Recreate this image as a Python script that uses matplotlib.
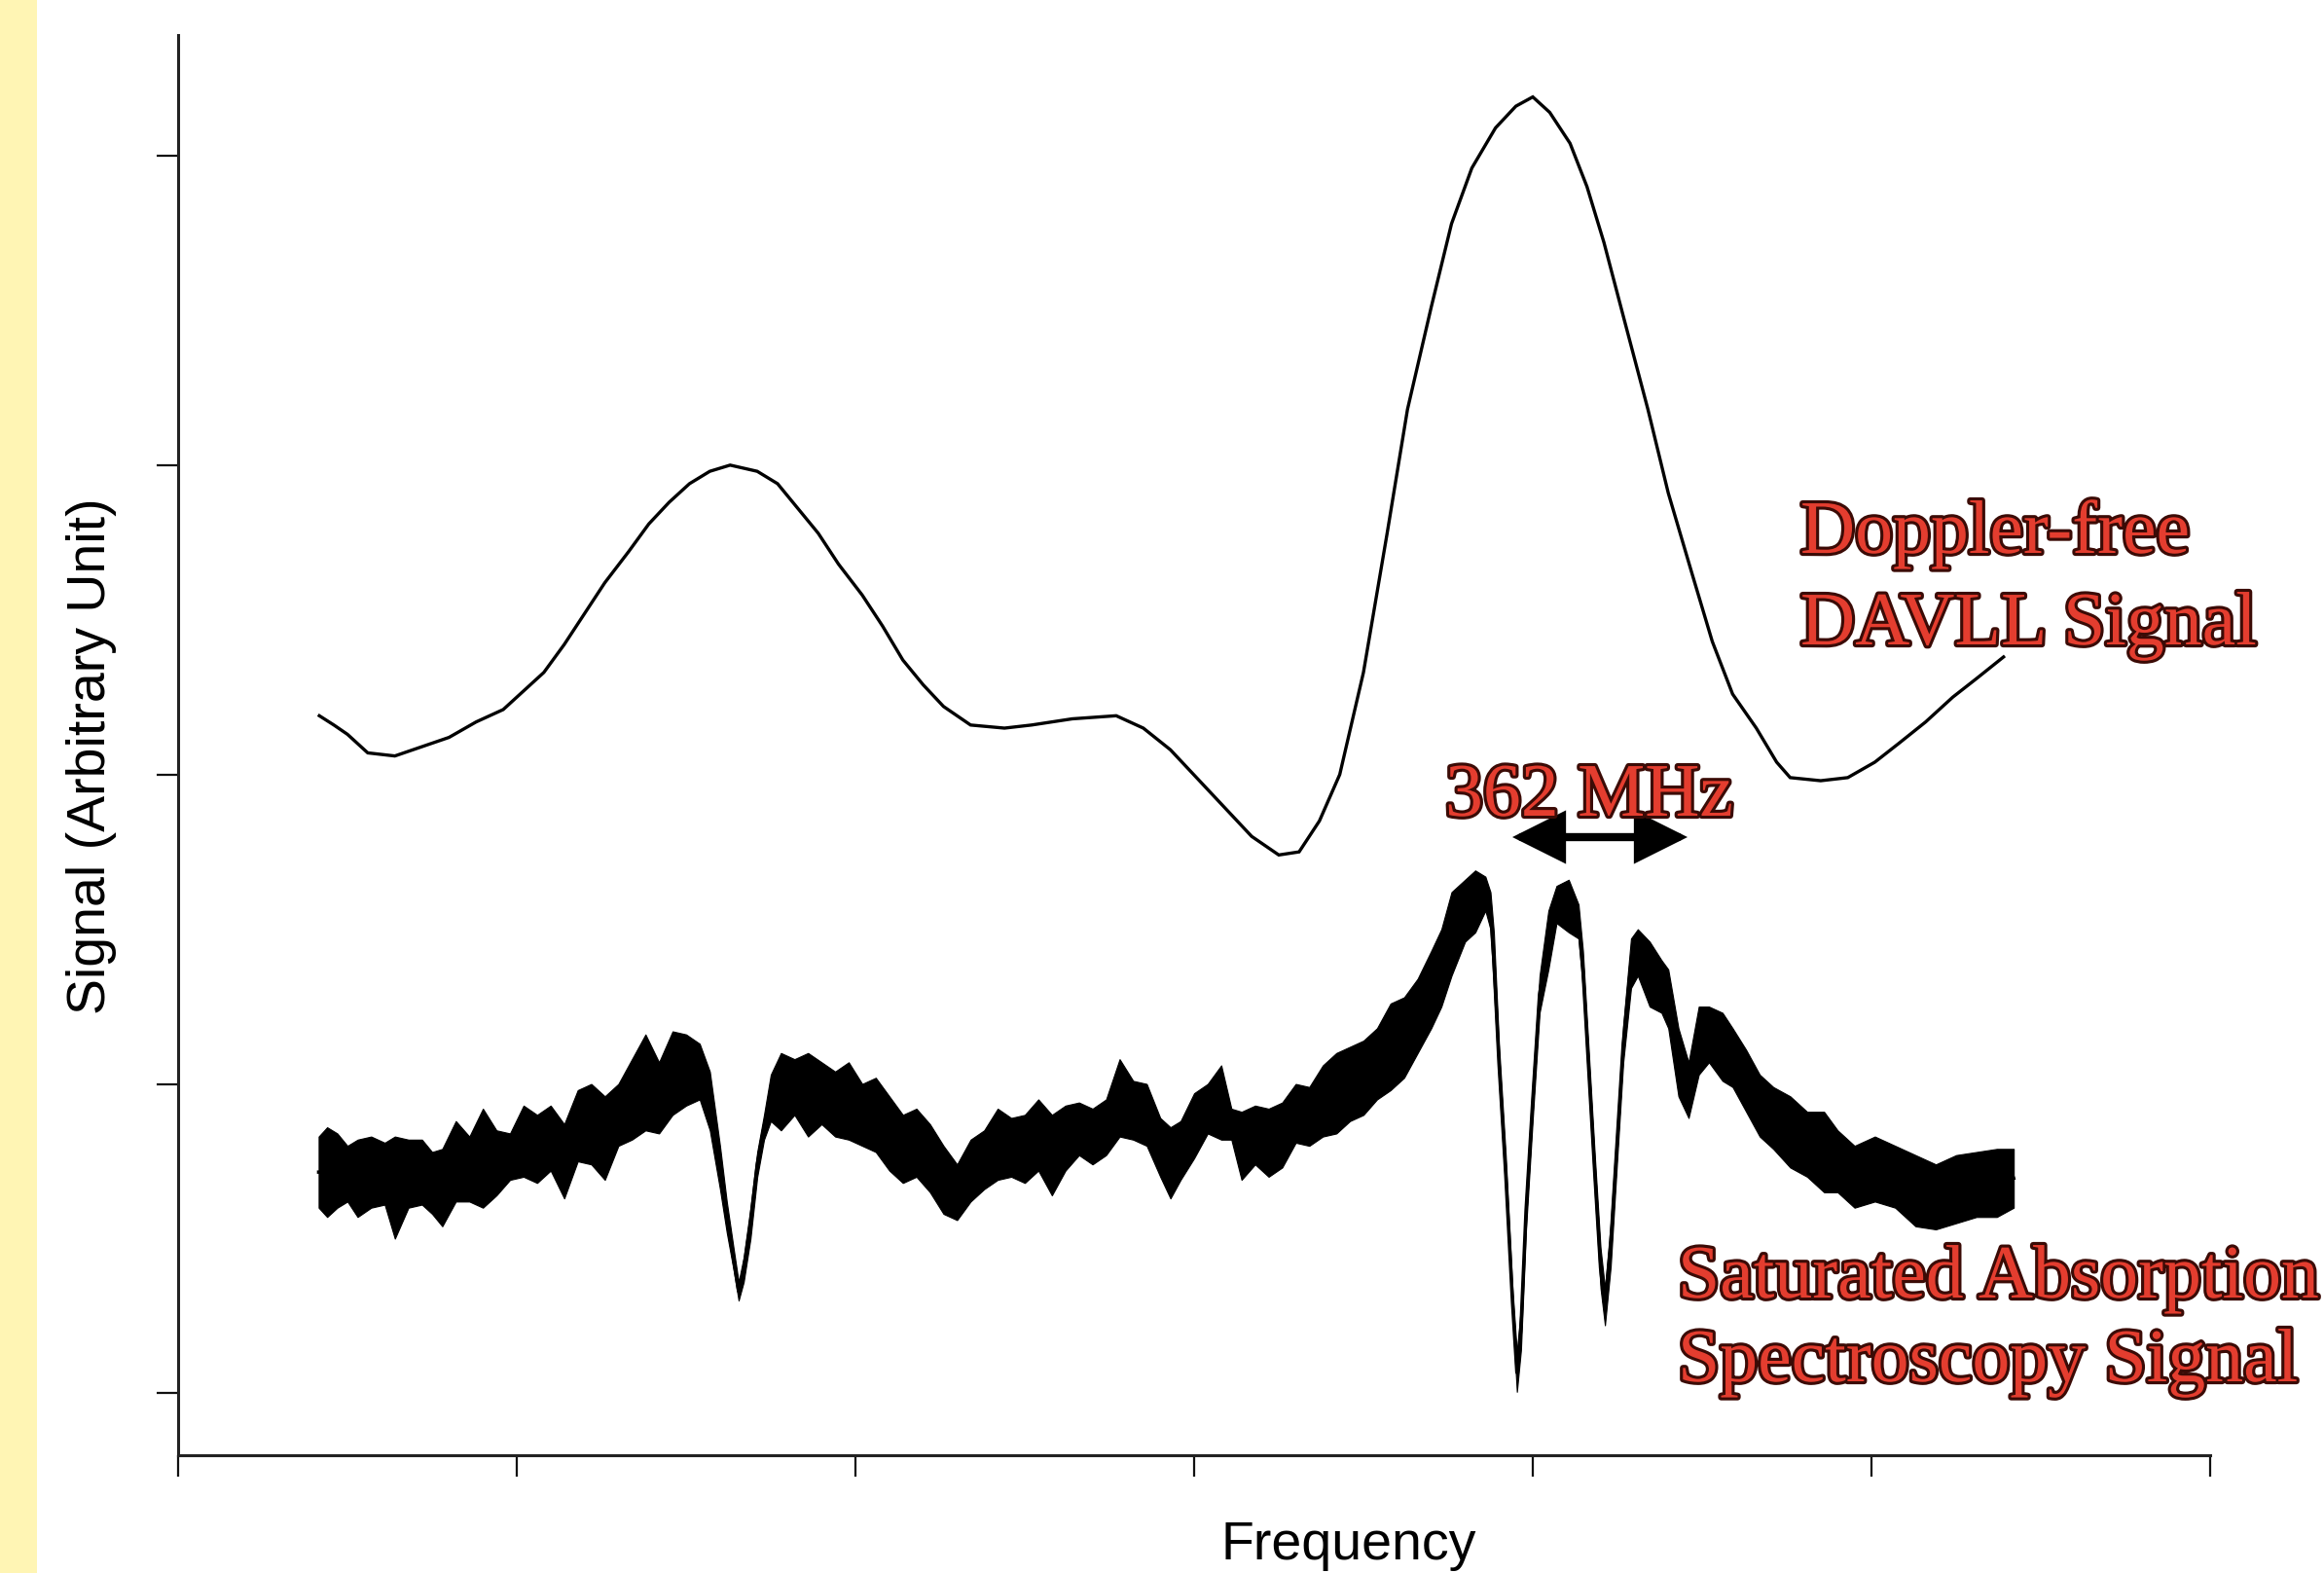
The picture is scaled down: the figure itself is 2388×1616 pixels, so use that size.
import matplotlib
matplotlib.use("Agg")
import matplotlib.pyplot as plt
import numpy as np
from matplotlib import patheffects as pe
from matplotlib.patches import Rectangle, FancyArrowPatch

# ---------------- data ----------------
x_ticks = [0, 1, 2, 3, 4, 5, 6]
y_ticks = [0, 1, 2, 3, 4]

# Doppler-free DAVLL signal
davll_x = [0.417, 0.46, 0.50, 0.56, 0.64, 0.72, 0.80, 0.88, 0.96, 1.02, 1.08, 1.14,
           1.20, 1.26, 1.33, 1.39, 1.45, 1.51, 1.57, 1.63, 1.71, 1.77, 1.83, 1.89,
           1.95, 2.02, 2.08, 2.14, 2.20, 2.26, 2.34, 2.44, 2.52, 2.64, 2.77, 2.85,
           2.93, 2.99, 3.05, 3.11, 3.17, 3.25, 3.31, 3.37, 3.43, 3.50, 3.57, 3.63,
           3.70, 3.76, 3.82, 3.89, 3.95, 4.00, 4.05, 4.11, 4.16, 4.21, 4.27, 4.34,
           4.40, 4.47, 4.53, 4.59, 4.66, 4.72, 4.76, 4.85, 4.93, 5.01, 5.08, 5.16,
           5.24, 5.31, 5.39]
davll_y = [2.19, 2.16, 2.13, 2.07, 2.06, 2.09, 2.12, 2.17, 2.21, 2.27, 2.33, 2.42,
           2.52, 2.62, 2.72, 2.81, 2.88, 2.94, 2.98, 3.00, 2.98, 2.94, 2.86, 2.78,
           2.68, 2.58, 2.48, 2.37, 2.29, 2.22, 2.16, 2.15, 2.16, 2.18, 2.19, 2.15,
           2.08, 2.01, 1.94, 1.87, 1.80, 1.74, 1.75, 1.85, 2.00, 2.33, 2.78, 3.18,
           3.51, 3.78, 3.96, 4.09, 4.16, 4.19, 4.14, 4.04, 3.90, 3.72, 3.47, 3.18,
           2.91, 2.65, 2.43, 2.26, 2.15, 2.04, 1.99, 1.98, 1.99, 2.04, 2.10, 2.17,
           2.25, 2.31, 2.38]

# Saturated absorption spectroscopy signal: noise band (lower / upper envelope)
sas_x = [0.415, 0.44, 0.47, 0.50, 0.53, 0.57, 0.61, 0.64, 0.68, 0.72, 0.75, 0.78,
         0.82, 0.86, 0.90, 0.94, 0.98, 1.02, 1.06, 1.10, 1.14, 1.18, 1.22, 1.26,
         1.30, 1.34, 1.38, 1.42, 1.46, 1.50, 1.54, 1.57, 1.60, 1.62, 1.64, 1.655,
         1.67, 1.69, 1.71, 1.73, 1.75, 1.78, 1.82, 1.86, 1.90, 1.94, 1.98, 2.02,
         2.06, 2.10, 2.14, 2.18, 2.22, 2.26, 2.30, 2.34, 2.38, 2.42, 2.46, 2.50,
         2.54, 2.58, 2.62, 2.66, 2.70, 2.74, 2.78, 2.82, 2.86, 2.90, 2.93, 2.96,
         3.00, 3.04, 3.08, 3.11, 3.14, 3.18, 3.22, 3.26, 3.30, 3.34, 3.38, 3.42,
         3.46, 3.50, 3.54, 3.58, 3.62, 3.66, 3.70, 3.73, 3.76, 3.80, 3.83, 3.86,
         3.875, 3.885, 3.90, 3.92, 3.94, 3.953, 3.965, 3.98, 4.00, 4.02, 4.046, 4.07,
         4.106, 4.135, 4.148, 4.165, 4.183, 4.20, 4.213, 4.23, 4.25, 4.267, 4.29, 4.31,
         4.345, 4.38, 4.40, 4.43, 4.46, 4.49, 4.52, 4.56, 4.59, 4.63, 4.67, 4.71,
         4.76, 4.81, 4.86, 4.90, 4.95, 5.01, 5.07, 5.13, 5.19, 5.25, 5.31, 5.37, 5.42]
sas_lo = [0.60, 0.57, 0.60, 0.62, 0.57, 0.60, 0.61, 0.50, 0.60, 0.61, 0.58, 0.54,
          0.62, 0.62, 0.60, 0.64, 0.69, 0.70, 0.68, 0.72, 0.63, 0.75, 0.74, 0.69,
          0.80, 0.82, 0.85, 0.84, 0.90, 0.93, 0.95, 0.85, 0.66, 0.52, 0.40, 0.30,
          0.36, 0.50, 0.70, 0.82, 0.88, 0.85, 0.90, 0.83, 0.87, 0.83, 0.82, 0.80,
          0.78, 0.72, 0.68, 0.70, 0.65, 0.58, 0.56, 0.62, 0.66, 0.69, 0.70, 0.68,
          0.72, 0.64, 0.72, 0.77, 0.74, 0.77, 0.83, 0.82, 0.80, 0.70, 0.63, 0.69,
          0.76, 0.84, 0.82, 0.82, 0.69, 0.74, 0.70, 0.73, 0.81, 0.80, 0.83, 0.84,
          0.88, 0.90, 0.95, 0.98, 1.02, 1.10, 1.18, 1.25, 1.35, 1.46, 1.49, 1.56,
          1.50, 1.31, 1.01, 0.65, 0.25, 0.005, 0.14, 0.53, 0.89, 1.23, 1.37, 1.52,
          1.49, 1.47, 1.31, 0.99, 0.65, 0.34, 0.22, 0.41, 0.77, 1.07, 1.31, 1.35,
          1.25, 1.23, 1.18, 0.96, 0.89, 1.03, 1.07, 1.01, 0.99, 0.91, 0.83, 0.79,
          0.73, 0.70, 0.65, 0.65, 0.60, 0.62, 0.60, 0.54, 0.53, 0.55, 0.57, 0.57, 0.60]
sas_hi = [0.83, 0.86, 0.84, 0.80, 0.82, 0.83, 0.81, 0.83, 0.82, 0.82, 0.78, 0.79,
          0.88, 0.83, 0.92, 0.85, 0.84, 0.93, 0.90, 0.93, 0.87, 0.98, 1.00, 0.96,
          1.00, 1.08, 1.16, 1.07, 1.17, 1.16, 1.13, 1.04, 0.80, 0.62, 0.47, 0.36,
          0.44, 0.60, 0.78, 0.90, 1.03, 1.10, 1.08, 1.10, 1.07, 1.04, 1.07, 1.00,
          1.02, 0.96, 0.90, 0.92, 0.87, 0.80, 0.74, 0.82, 0.85, 0.92, 0.89, 0.90,
          0.95, 0.90, 0.93, 0.94, 0.92, 0.95, 1.08, 1.01, 1.00, 0.89, 0.86, 0.88,
          0.97, 1.00, 1.06, 0.92, 0.91, 0.93, 0.92, 0.94, 1.00, 0.99, 1.06, 1.10,
          1.12, 1.14, 1.18, 1.26, 1.28, 1.34, 1.43, 1.50, 1.62, 1.66, 1.69, 1.67,
          1.62, 1.49, 1.13, 0.77, 0.34, 0.13, 0.28, 0.65, 1.01, 1.35, 1.56, 1.64,
          1.66, 1.58, 1.43, 1.11, 0.77, 0.47, 0.34, 0.55, 0.89, 1.19, 1.47, 1.50,
          1.46, 1.40, 1.37, 1.18, 1.07, 1.25, 1.25, 1.23, 1.18, 1.11, 1.03, 0.99,
          0.96, 0.91, 0.91, 0.85, 0.80, 0.83, 0.80, 0.77, 0.74, 0.77, 0.78, 0.79, 0.79]

# ---------------- figure ----------------
W, H = 2388, 1616
fig = plt.figure(figsize=(W / 100, H / 100), dpi=100)
fig.patch.set_facecolor("white")


def fpos(px, py):
    return px / W, 1 - py / H


# yellow strip on the left edge
fig.add_artist(Rectangle((0, 0), 38 / W, 1, transform=fig.transFigure,
                         facecolor="#fff5b4", edgecolor="none", zorder=0))

ax = fig.add_axes([183 / W, 121 / H, 2088 / W, 1459 / H])
ax.set_xlim(0, 6)
ax.set_ylim(-0.2, 4.39)
ax.set_xticks(x_ticks)
ax.set_yticks(y_ticks)
ax.tick_params(direction="out", length=16, width=1.6, color="#111111",
               labelleft=False, labelbottom=False)
for s in ["top", "right"]:
    ax.spines[s].set_visible(False)
for s in ["left", "bottom"]:
    ax.spines[s].set_linewidth(2.2)
    ax.spines[s].set_color("#222222")

# DAVLL signal
ax.plot(davll_x, davll_y, color="black", lw=2.4, solid_joinstyle="miter")

# SAS signal (noise band + centre trace)
lo = np.array(sas_lo)
hi = np.array(sas_hi)
ax.fill_between(sas_x, lo, hi, color="black", lw=0.8)
ax.plot(sas_x, (lo + hi) / 2, color="black", lw=2.5)

# axis labels
ax.set_ylabel("Signal (Arbitrary Unit)", family="Liberation Sans", fontsize=40)
ax.yaxis.label.set(va="center", ha="center")
ax.yaxis.set_label_coords((94 - 183) / 2088, (1495 - 777) / 1459)
ax.set_xlabel("Frequency", family="Liberation Sans", fontsize=40)
ax.xaxis.label.set(va="center", ha="center")
ax.xaxis.set_label_coords((1386 - 183) / 2088, (1495 - 1588) / 1459)

# red outlined annotations
red = "#e43d2f"
effects = [pe.withStroke(linewidth=4.5, foreground="#3b0b06")]
txt_kw = dict(family="Liberation Serif", fontsize=56, color=red,
              ha="left", va="baseline", path_effects=effects)
fig.text(*fpos(1850, 568), "Doppler-free", **txt_kw)
fig.text(*fpos(1850, 662), "DAVLL Signal", **txt_kw)
fig.text(*fpos(1485, 838), "362 MHz", **txt_kw)
fig.text(*fpos(1724, 1333), "Saturated Absorption", **txt_kw)
fig.text(*fpos(1724, 1419), "Spectroscopy Signal", **txt_kw)

# double-headed arrow under "362 MHz"
arrow = FancyArrowPatch(fpos(1554, 860), fpos(1734, 860), transform=fig.transFigure,
                        arrowstyle="<|-|>,head_length=3.0,head_width=1.5",
                        mutation_scale=10, lw=6, color="black",
                        shrinkA=0, shrinkB=0, joinstyle="miter")
fig.add_artist(arrow)

fig.savefig("out.png", dpi=100, facecolor="white")
